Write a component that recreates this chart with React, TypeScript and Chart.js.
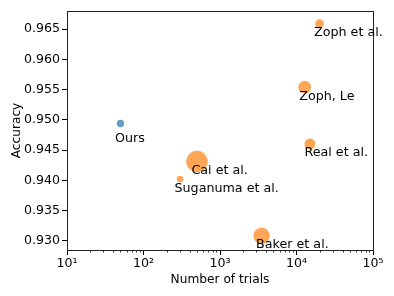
import React, { useEffect, useRef } from "react";
import { Chart, registerables } from "chart.js";

Chart.register(...registerables);

const names = ["Ours", "Zoph et al.", "Zoph, Le", "Real et al.", "Cai et al.", "Suganuma et al.", "Baker et al."];
const trials = [50, 20000, 12800, 15000, 500, 300, 3500];
const accuracy = [0.9494, 0.9659, 0.9554, 0.946, 0.9431, 0.9402, 0.9308];
const radii = [3.7, 4.4, 6.4, 5.5, 10.7, 3.2, 8.2];
const xTickValues = [10, 100, 1000, 10000, 100000];
const xTickLabels = ["10\u00b9", "10\u00b2", "10\u00b3", "10\u2074", "10\u2075"];
const labelDy = [18.5, 12.5, 12.5, 12.5, 12.5, 12.5, 12.5];

const FONT = "DejaVu Sans";

const overlay = {
  id: "overlay",
  afterDatasetsDraw(chart: any) {
    const ctx = chart.ctx;
    const { left, right, top, bottom } = chart.chartArea;
    const xs = chart.scales.x;
    const ys = chart.scales.y;
    ctx.save();
    // minor ticks on x
    ctx.strokeStyle = "#000";
    ctx.lineWidth = 0.8;
    for (let e = 1; e < 5; e++) {
      for (let m = 2; m <= 9; m++) {
        const v = m * Math.pow(10, e);
        const px = Math.round(xs.getPixelForValue(v)) + 0.5;
        ctx.beginPath();
        ctx.moveTo(px, bottom);
        ctx.lineTo(px, bottom + 2.5);
        ctx.stroke();
      }
    }
    // box
    ctx.lineWidth = 1;
    ctx.strokeStyle = "#222";
    ctx.strokeRect(Math.round(left) + 0.5, Math.round(top) + 0.5, Math.round(right - left), Math.round(bottom - top));
    // point labels
    ctx.fillStyle = "#000";
    ctx.font = `12.7px "${FONT}"`;
    ctx.textAlign = "left";
    ctx.textBaseline = "alphabetic";
    names.forEach((n, i) => {
      const px = xs.getPixelForValue(trials[i]);
      const py = ys.getPixelForValue(accuracy[i]);
      ctx.fillText(n, px - 5.5, py + labelDy[i]);
    });
    // axis titles
    ctx.font = `12.2px "${FONT}"`;
    ctx.textAlign = "center";
    ctx.fillText("Number of trials", (left + right) / 2, 283);
    ctx.translate(19.5, (top + bottom) / 2);
    ctx.rotate(-Math.PI / 2);
    ctx.fillText("Accuracy", 0, 0);
    ctx.restore();
  },
};

export default function App() {
  const ref = useRef<HTMLCanvasElement>(null);
  useEffect(() => {
    if (!ref.current) return;
    const chart = new Chart(ref.current, {
      type: "scatter",
      data: {
        datasets: [
          {
            data: [{ x: trials[0], y: accuracy[0] }],
            pointRadius: [radii[0]],
            backgroundColor: "rgba(31,119,180,0.7)",
            borderWidth: 0,
          },
          {
            data: trials.slice(1).map((t, i) => ({ x: t, y: accuracy[i + 1] })),
            pointRadius: radii.slice(1),
            backgroundColor: "rgba(255,127,14,0.7)",
            borderWidth: 0,
          },
        ],
      },
      options: {
        animation: false,
        responsive: false,
        devicePixelRatio: 1,
        layout: { padding: { top: 11, right: 21, left: 0, bottom: 0 } },
        plugins: { legend: { display: false }, tooltip: { enabled: false } },
        scales: {
          x: {
            type: "logarithmic",
            min: 10,
            max: 100000,
            afterBuildTicks: (s: any) => {
              s.ticks = xTickValues.map((v) => ({ value: v }));
            },
            afterFit: (s: any) => {
              s.height = 46;
            },
            ticks: {
              callback: (v: any) => {
                const i = xTickValues.indexOf(Number(v));
                return i >= 0 ? xTickLabels[i] : "";
              },
              color: "#000",
              font: { family: FONT, size: 12.6 },
              padding: 1,
              maxRotation: 0,
              autoSkip: false,
            },
            grid: { drawOnChartArea: false, tickLength: 5, tickColor: "#000", tickWidth: 1 },
            border: { display: false },
          },
          y: {
            type: "linear",
            min: 0.92846,
            max: 0.968,
            afterFit: (s: any) => {
              s.width = 67;
            },
            ticks: {
              stepSize: 0.005,
              includeBounds: false,
              callback: (v: any) => Number(v).toFixed(3),
              color: "#000",
              font: { family: FONT, size: 12.6 },
              padding: 2,
            },
            grid: { drawOnChartArea: false, tickLength: 5, tickColor: "#000", tickWidth: 1 },
            border: { display: false },
          },
        },
      },
      plugins: [overlay],
    });
    return () => chart.destroy();
  }, []);
  return (
    <div style={{ position: "absolute", left: 0, top: 0, width: 394, height: 296, background: "#fff" }}>
      <canvas ref={ref} width={394} height={296} />
    </div>
  );
}
